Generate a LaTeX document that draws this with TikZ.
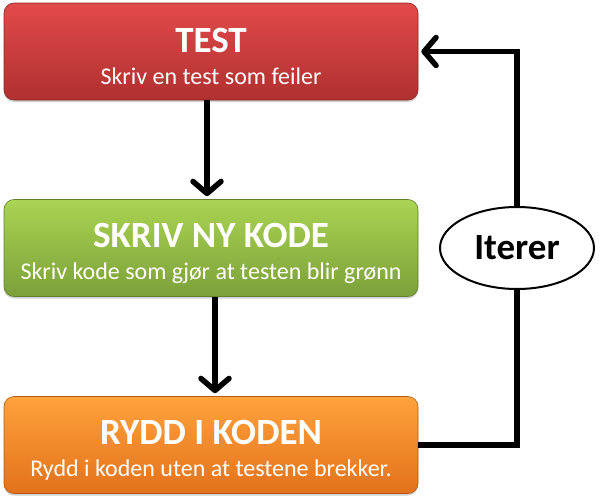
\documentclass[tikz,border=0pt]{standalone}
\usepackage{fontspec}
\setmainfont{Carlito}
\usepackage{xcolor}
\usepackage{tikz}
\usetikzlibrary{arrows.meta,shapes.geometric,shadows,positioning}

\definecolor{testtop}{RGB}{226,74,74}
\definecolor{testbot}{RGB}{176,48,48}
\definecolor{kodetop}{RGB}{170,212,82}
\definecolor{kodebot}{RGB}{124,160,58}
\definecolor{ryddtop}{RGB}{255,162,60}
\definecolor{ryddbot}{RGB}{226,114,28}

\tikzset{
  stepbox/.style={rounded corners=10pt, minimum width=414pt, minimum height=97pt,
    inner sep=0pt, align=center, text=white,
    font=\fontsize{24}{32}\selectfont,
    drop shadow={opacity=0.35, shadow xshift=0pt, shadow yshift=-2pt}},
  barb/.tip={Straight Barb[length=12pt,width=28pt,line cap=round,line join=round]},
  flowarrow/.style={line width=5.5pt, -barb},
  loopline/.style={line width=5.5pt},
}
\newcommand\steptitle[1]{{\fontsize{37}{37}\selectfont\bfseries\rule{0pt}{35pt}#1}}

\begin{document}
\begin{tikzpicture}[x=1pt,y=-1pt]
  \useasboundingbox (0,0) rectangle (600,498);
  \fill[white] (0,0) rectangle (600,498);

  \node[stepbox, top color=testtop, bottom color=testbot, draw=testbot!80!black, line width=0.6pt]
    (test) at (211,51.5) {\steptitle{TEST}\\Skriv en test som feiler};
  \node[stepbox, top color=kodetop, bottom color=kodebot, draw=kodebot!80!black, line width=0.6pt]
    (kode) at (211,248) {\steptitle{SKRIV NY KODE}\\Skriv kode som gjør at testen blir grønn};
  \node[stepbox, top color=ryddtop, bottom color=ryddbot, draw=ryddbot!80!black, line width=0.6pt]
    (rydd) at (211,445) {\steptitle{RYDD I KODEN}\\Rydd i koden uten at testene brekker.};

  \node[ellipse, draw, line width=2pt, fill=white, minimum width=154pt, minimum height=82pt,
    font=\fontsize{37}{37}\selectfont\bfseries] (iter) at (517,248) {Iterer};

  % pilene nedover
  \draw[flowarrow] ([xshift=-4pt]test.south) -- ([xshift=-4pt,yshift=3pt]kode.north);
  \draw[flowarrow] ([xshift=4pt]kode.south) -- ([xshift=4pt,yshift=3pt]rydd.north);

  % sløyfen tilbake
  \draw[loopline, line join=miter] (rydd.east) -| (iter.south);
  \draw[loopline, line join=miter, -barb] (iter.north) |- ([xshift=3pt]test.east);
\end{tikzpicture}
\end{document}
